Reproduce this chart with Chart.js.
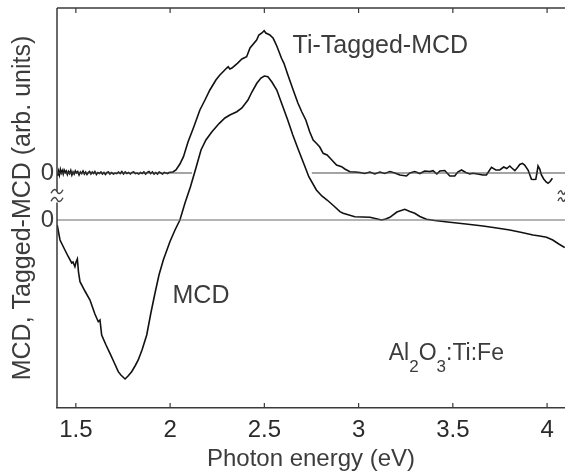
<!DOCTYPE html>
<html>
<head>
<meta charset="utf-8">
<script src="https://cdn.jsdelivr.net/npm/chart.js@4"></script>
<style>
html,body{margin:0;padding:0;background:#fff;overflow:hidden;}
canvas{display:block;}
</style>
</head>
<body>
<canvas id="c" width="565" height="476"></canvas>
<script>
// ---- data ----
const xTickValues = [1.5, 2, 2.5, 3, 3.5, 4];
const xTickLabels = ['1.5', '2', '2.5', '3', '3.5', '4'];
const yTickValues = [0];

// MCD (lower curve), arbitrary units, zero = lower baseline
const mcdX = [1.401,1.416,1.442,1.458,1.478,1.485,1.495,1.501,1.508,1.514,1.522,1.548,1.575,1.601,1.619,1.628,1.637,1.660,1.681,1.702,1.725,1.739,1.761,1.777,1.796,1.814,1.831,1.851,1.876,1.898,1.920,1.941,1.964,1.999,2.026,2.052,2.079,2.108,2.137,2.164,2.190,2.222,2.261,2.291,2.317,2.354,2.381,2.413,2.434,2.460,2.482,2.500,2.519,2.540,2.566,2.593,2.624,2.651,2.681,2.710,2.736,2.776,2.805,2.833,2.869,2.901,2.918,2.980,3.060,3.122,3.144,3.166,3.203,3.245,3.272,3.298,3.325,3.360,3.404,3.484,3.569,3.660,3.733,3.802,3.866,3.925,3.961,3.997,4.030,4.062,4.094];
const mcdY = [-0.5,-2.0,-3.0,-3.6,-4.3,-4.2,-4.67,-4.2,-3.9,-5.2,-6.17,-7.1,-8.0,-9.4,-10.17,-10.0,-11.5,-12.5,-13.33,-14.2,-15.17,-15.5,-15.9,-15.6,-15.17,-14.6,-14.0,-13.0,-11.5,-9.3,-7.3,-5.5,-4.0,-2.17,-1.0,0,1.7,3.33,5.2,7.0,8.0,8.83,9.67,10.2,10.5,10.83,11.2,12.0,12.8,13.67,14.2,14.4,14.33,13.8,13.0,11.6,10.0,8.5,7.0,5.6,4.33,3.0,2.4,2.0,1.4,0.83,0.67,0.33,0.27,0,0.1,0.27,0.8,1.07,0.85,0.67,0.35,0.07,-0.05,-0.23,-0.4,-0.6,-0.8,-1.0,-1.25,-1.5,-1.6,-1.73,-2.0,-2.4,-2.75];

// Ti-Tagged-MCD (upper curve), arbitrary units, zero = upper baseline
const ttX = [1.403,1.408,1.413,1.418,1.423,1.428,1.433,1.438,1.444,1.449,1.455,1.461,1.467,1.473,1.479,1.485,1.491,1.497,1.503,1.510,1.517,1.524,1.531,1.538,1.545,1.552,1.559,1.566,1.573,1.580,1.587,1.594,1.601,1.609,1.617,1.625,1.633,1.641,1.649,1.657,1.665,1.673,1.681,1.690,1.699,1.708,1.717,1.726,1.735,1.744,1.753,1.762,1.771,1.780,1.789,1.798,1.807,1.816,1.825,1.834,1.843,1.852,1.861,1.870,1.879,1.888,1.897,1.906,1.915,1.924,1.933,1.942,1.951,1.960,1.969,1.978,1.987,1.994,2.015,2.031,2.052,2.071,2.095,2.126,2.158,2.185,2.211,2.243,2.264,2.285,2.299,2.308,2.317,2.328,2.357,2.381,2.406,2.424,2.459,2.471,2.487,2.499,2.508,2.519,2.529,2.547,2.566,2.591,2.604,2.625,2.653,2.678,2.699,2.720,2.741,2.759,2.776,2.794,2.812,2.833,2.853,2.883,2.910,2.927,2.954,2.980,3.007,3.033,3.060,3.086,3.113,3.139,3.166,3.192,3.219,3.254,3.272,3.298,3.325,3.351,3.378,3.395,3.415,3.431,3.457,3.484,3.510,3.526,3.546,3.569,3.590,3.606,3.632,3.659,3.678,3.705,3.728,3.749,3.770,3.786,3.802,3.813,3.829,3.845,3.855,3.869,3.881,3.899,3.917,3.929,3.940,3.947,3.952,3.961,3.970,3.982,3.995,4.005,4.016,4.028];
const ttY = [-0.3,0.2,-0.2,0.35,0.0,0.25,-0.1,0.3,0.05,0.2,-0.15,0.15,-0.05,0.25,-0.2,0.1,-0.1,0.2,0.0,0.15,-0.2,0.1,-0.05,0.2,-0.1,0.1,-0.15,0.05,0.15,-0.1,0.1,-0.05,0.15,-0.15,0.05,-0.05,0.1,-0.1,0.05,-0.15,0.05,0.1,-0.1,0.05,-0.1,0.0,-0.05,0.1,-0.05,0.15,-0.1,0.1,-0.05,0.05,-0.1,0.05,0.1,-0.05,0.0,-0.1,0.05,-0.05,0.1,-0.1,0.05,0.15,-0.05,0.1,-0.1,0.05,-0.1,0.1,0.0,-0.1,0.05,0.0,-0.05,0.05,0.1,0.3,0.9,1.63,3.1,4.63,6.3,7.3,8.3,9.3,9.8,10.2,10.47,10.63,10.4,10.5,10.97,11.4,11.63,12.5,13.3,13.8,14.0,14.23,14.0,13.9,13.8,13.47,12.7,11.47,10.97,9.8,8.3,7.0,6.1,5.3,4.1,3.3,2.97,2.6,1.97,1.8,1.4,0.8,0.63,0.4,0.13,0.1,0.05,-0.05,0.1,-0.1,0.1,-0.05,0.15,0,-0.2,-0.3,0,0.15,-0.05,0.2,0.15,0.23,-0.1,0.2,0.25,-0.3,-0.3,0.1,0.3,0.05,-0.1,-0.03,-0.1,-0.2,-0.2,0.57,0.3,0.3,0.6,0.45,0.7,0.5,0.23,0.6,0.85,0.97,0.8,0.3,-0.63,-0.65,-0.63,0.1,0.7,0.4,-0.2,-0.6,-0.9,-1.03,-0.85,-0.53];

// baselines
const lowerZeroX = [1.4, 4.1];
const upperZeroLeftX = [1.4, 2.116];
const upperZeroRightX = [2.752, 4.1];

// text annotations (data coordinates on the MCD scale)
const labels = [
  {text: 'Ti-Tagged-MCD', x: 2.650, y: 16.67},
  {text: 'MCD', x: 2.013, y: -8.33}
];

// ---- chart ----
const FONT = "'Liberation Sans', Arial, sans-serif";
const TEXT = '#3c3c3c';
const AXIS = '#3a3a3a';

function pts(xs, ys){ return xs.map((x,i)=>({x:x, y:ys[i]})); }
function zeroPts(xs){ return xs.map(x=>({x:x, y:0})); }

const decor = {
  id: 'decor',
  afterDraw(chart){
    const ctx = chart.ctx, a = chart.chartArea;
    const xs = chart.scales.x, y = chart.scales.y, y2 = chart.scales.y2;
    ctx.save();
    ctx.strokeStyle = AXIS; ctx.lineWidth = 1.5;
    // top border
    ctx.beginPath(); ctx.moveTo(a.left, a.top); ctx.lineTo(a.right, a.top); ctx.stroke();
    // left axis with break
    const brk = (y.getPixelForValue(0) + y2.getPixelForValue(0))/2;
    ctx.beginPath();
    ctx.moveTo(a.left, a.top); ctx.lineTo(a.left, brk - 5);
    ctx.moveTo(a.left, brk + 6); ctx.lineTo(a.left, a.bottom);
    ctx.stroke();
    // inward ticks
    ctx.lineWidth = 1.2;
    xTickValues.forEach(v=>{
      const px = xs.getPixelForValue(v);
      ctx.beginPath();
      ctx.moveTo(px, a.top); ctx.lineTo(px, a.top + 5);
      ctx.moveTo(px, a.bottom); ctx.lineTo(px, a.bottom - 5);
      ctx.stroke();
    });
    // break marks
    function tilde(cx, cy, w, h){
      ctx.beginPath();
      ctx.moveTo(cx - w, cy + h*0.6);
      ctx.bezierCurveTo(cx - w*0.6, cy - h, cx - w*0.2, cy - h, cx, cy);
      ctx.bezierCurveTo(cx + w*0.2, cy + h, cx + w*0.6, cy + h, cx + w, cy - h*0.6);
      ctx.stroke();
    }
    ctx.lineWidth = 1.4; ctx.strokeStyle = '#444';
    tilde(a.left, brk - 5, 6, 3);
    tilde(a.left, brk + 3, 6, 3);
    tilde(a.right - 3, brk - 4, 4, 2.5);
    tilde(a.right - 3, brk + 3, 4, 2.5);
    // second "0" label for the upper baseline
    ctx.fillStyle = TEXT;
    ctx.font = '24px ' + FONT;
    ctx.textAlign = 'right'; ctx.textBaseline = 'middle';
    ctx.fillText('0', a.left - 3, y2.getPixelForValue(0));
    // annotations
    ctx.textAlign = 'left'; ctx.textBaseline = 'alphabetic';
    ctx.font = '25px ' + FONT;
    labels.forEach(l=>{
      ctx.fillText(l.text, xs.getPixelForValue(l.x), y.getPixelForValue(l.y));
    });
    // Al2O3:Ti:Fe with subscripts
    let px = xs.getPixelForValue(3.160), py = y.getPixelForValue(-14.0);
    const parts = [['Al',0],['2',1],['O',0],['3',1],[':Ti:Fe',0]];
    parts.forEach(p=>{
      ctx.font = (p[1] ? '17px ' : '23px ') + FONT;
      ctx.fillText(p[0], px, py + (p[1] ? 12 : 0));
      px += ctx.measureText(p[0]).width;
    });
    ctx.restore();
  }
};

new Chart(document.getElementById('c'), {
  type: 'line',
  data: {
    datasets: [
      {data: zeroPts(lowerZeroX), yAxisID: 'y', borderColor: '#6a6a6a', borderWidth: 1.2},
      {data: zeroPts(upperZeroLeftX), yAxisID: 'y2', borderColor: '#4a4a4a', borderWidth: 1.1},
      {data: zeroPts(upperZeroRightX), yAxisID: 'y2', borderColor: '#4a4a4a', borderWidth: 1.1},
      {data: pts(mcdX, mcdY), yAxisID: 'y', borderColor: '#111', borderWidth: 1.6},
      {data: pts(ttX, ttY), yAxisID: 'y2', borderColor: '#111', borderWidth: 1.6}
    ]
  },
  options: {
    responsive: false,
    animation: false,
    devicePixelRatio: 1,
    layout: {padding: {top: 8, right: 0, left: 0, bottom: 0}},
    elements: {point: {radius: 0}, line: {tension: 0}},
    plugins: {legend: {display: false}, tooltip: {enabled: false}},
    scales: {
      x: {
        type: 'linear', position: 'bottom', min: 1.4, max: 4.095,
        afterBuildTicks: s => { s.ticks = xTickValues.map(v=>({value:v})); },
        afterFit: s => { s.height = 68; s.paddingLeft = 0; s.paddingRight = 0; },
        grid: {display: false, drawTicks: false},
        border: {display: true, color: AXIS, width: 1.5},
        ticks: {
          padding: 8, color: '#2a2a2a', font: {family: FONT, size: 24},
          maxRotation: 0, autoSkip: false,
          callback: (v) => { const i = xTickValues.indexOf(v); return i >= 0 ? xTickLabels[i] : ''; }
        },
        title: {display: true, text: 'Photon energy (eV)', color: TEXT,
                font: {family: FONT, size: 24}, padding: {top: 0, bottom: 2}}
      },
      y: {
        type: 'linear', position: 'left', min: -18.8, max: 21.2,
        afterBuildTicks: s => { s.ticks = yTickValues.map(v=>({value:v})); },
        afterFit: s => { s.width = 57; s.paddingTop = 0; s.paddingBottom = 0; },
        grid: {display: false, drawTicks: false},
        border: {display: false},
        ticks: {padding: 3, color: TEXT, font: {family: FONT, size: 24}},
        title: {display: true, text: 'MCD, Tagged-MCD (arb. units)', color: TEXT,
                font: {family: FONT, size: 25}, padding: {top: 8, bottom: 0}}
      },
      y2: {
        type: 'linear', display: false, min: -23.5, max: 16.5
      }
    }
  },
  plugins: [decor]
});
</script>
</body>
</html>
